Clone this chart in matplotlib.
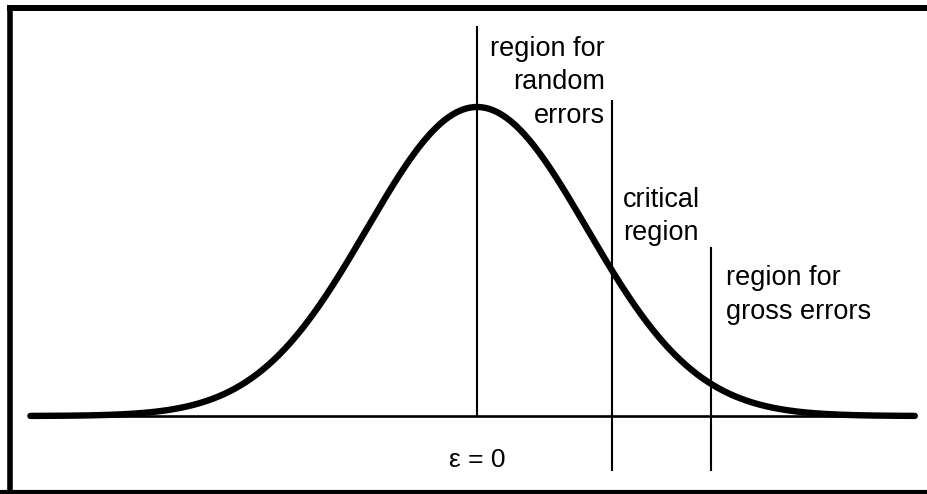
import numpy as np
import matplotlib
matplotlib.use("Agg")
import matplotlib.pyplot as plt
from matplotlib.lines import Line2D

plt.rcParams['font.family'] = ['Liberation Sans', 'DejaVu Sans']

# curve: standard normal shape, peak scaled to 1
x_min, x_max = -4.06, 3.98
mean, sigma = 0.0, 1.0

# vertical boundaries (in sigma units) and their extents (top, bottom)
boundary_x = [0.0, 1.23, 2.13]
boundary_top = [1.26, 1.02, 0.545]
boundary_bottom = [0.0, -0.175, -0.175]

labels = ["region for\nrandom\nerrors", "critical\nregion", "region for\ngross errors"]
label_x = [1.165, 1.33, 2.26]
label_y = [1.080, 0.646, 0.392]
label_ha = ["right", "left", "left"]

zero_label = "\u03b5 = 0"

fig = plt.figure(figsize=(9.27, 4.94), dpi=100)
ax = fig.add_axes([0, 0, 1, 1])
ax.set_xlim(-477 / 110, 450 / 110)
ax.set_ylim(-78 / 309, 416 / 309)
ax.axis('off')

xs = np.linspace(x_min, x_max, 800)
ys = np.exp(-0.5 * ((xs - mean) / sigma) ** 2)

# baseline
ax.plot([x_min, x_max], [0, 0], color='black', lw=1.9)
# bell curve
ax.plot(xs, ys, color='black', lw=4.6, solid_capstyle='round')

for bx, top, bot in zip(boundary_x, boundary_top, boundary_bottom):
    ax.plot([bx, bx], [bot, top], color='black', lw=1.5)

for txt, tx, ty, ha in zip(labels, label_x, label_y, label_ha):
    ax.text(tx, ty, txt, ha=ha, va='center', multialignment=ha,
            fontsize=19.5, linespacing=1.38, color='black')

ax.text(0.0, -0.143, zero_label, ha='center', va='center', fontsize=19)

# frame around the figure (right side cut off)
W, H = 927, 494
fig.add_artist(Line2D([10 / W, 10 / W], [0, (H - 5) / H], color='black', lw=4,
                      solid_capstyle='butt'))
fig.add_artist(Line2D([7 / W, 1], [(H - 8) / H, (H - 8) / H], color='black', lw=4.3,
                      solid_capstyle='butt'))
fig.add_artist(Line2D([0, 1], [2 / H, 2 / H], color='black', lw=3, solid_capstyle='butt'))

fig.savefig("out.png", dpi=100, facecolor='white')
